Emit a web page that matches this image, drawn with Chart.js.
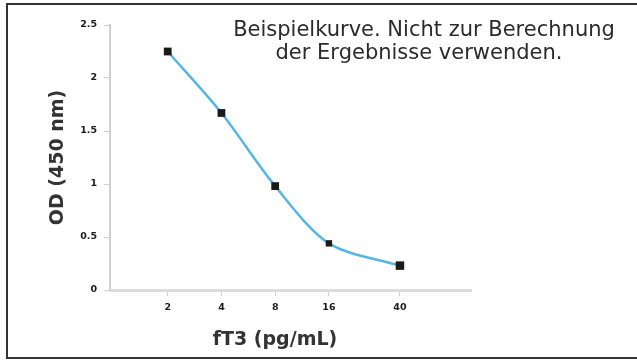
<!DOCTYPE html>
<html>
<head>
<meta charset="utf-8">
<script src="https://cdn.jsdelivr.net/npm/chart.js@4.4.0/dist/chart.umd.min.js"></script>
<style>
    html, body { margin: 0; padding: 0; background: #fff; overflow: hidden; }
    #wrap { position: relative; width: 637px; height: 361px; overflow: hidden; }
    #frame { position: absolute; left: 6px; top: 3px; width: 660px; height: 352px; border: 2px solid #333; }
    #myChart { position: absolute; left: 0; top: 0; }
</style>
</head>
<body>
<div id="wrap">
    <div id="frame"></div>
    <canvas id="myChart" width="637" height="361"></canvas>
</div>
<script>
const concentrations = [2, 4, 8, 16, 40]
const odValues = [2.25, 1.67, 0.98, 0.44, 0.23]
const xTickValues = [2, 4, 8, 16, 40]
const yTickValues = [0, 0.5, 1, 1.5, 2, 2.5]
const noteLines = ['Beispielkurve. Nicht zur Berechnung', 'der Ergebnisse verwenden.']
const xTitle = 'fT3 (pg/mL)'
const yTitle = 'OD (450 nm)'

const textPlugin = {
    id: 'extraText',
    afterDraw(chart) {
        const c = chart.ctx
        c.save()
        c.fillStyle = '#2b2b2b'
        c.textAlign = 'center'
        c.textBaseline = 'middle'
        c.font = '21px "DejaVu Sans"'
        c.fillText(noteLines[0], 424, 31)
        c.fillText(noteLines[1], 419, 54)
        c.font = 'bold 19px "DejaVu Sans"'
        c.fillStyle = '#333'
        c.fillText(xTitle, 275, 340)
        c.restore()
    }
}

const ctx = document.getElementById('myChart').getContext('2d')
const myChart = new Chart(ctx, {
    type: 'line',
    data: {
        datasets: [{
            data: concentrations.map((x, i) => ({ x: x, y: odValues[i] })),
            borderColor: '#55b6e6',
            borderWidth: 2.5,
            tension: 0.3,
            pointStyle: 'rect',
            pointRadius: [5.5, 5.5, 5.5, 4.5, 6],
            pointBackgroundColor: '#1a1a1a',
            pointBorderColor: '#1a1a1a',
            pointBorderWidth: 0
        }]
    },
    options: {
        responsive: false,
        animation: false,
        layout: {
            padding: { left: 0, top: 25, right: 166, bottom: 0 }
        },
        plugins: {
            legend: { display: false },
            tooltip: { enabled: false }
        },
        scales: {
            x: {
                type: 'logarithmic',
                min: 0.95,
                max: 100,
                afterBuildTicks: (scale) => {
                    scale.ticks = xTickValues.map(v => ({ value: v }))
                },
                afterFit: (scale) => { scale.height = 71 },
                ticks: {
                    autoSkip: false,
                    maxRotation: 0,
                    padding: 6,
                    color: '#1a1a1a',
                    font: { family: 'DejaVu Sans', size: 9.5, weight: 'bold' },
                    callback: (v) => String(v)
                },
                grid: { drawOnChartArea: false, tickLength: 6, color: '#cfcfcf' },
                border: { color: '#dcdcdc', width: 3 }
            },
            y: {
                min: 0,
                max: 2.5,
                afterBuildTicks: (scale) => {
                    scale.ticks = yTickValues.map(v => ({ value: v }))
                },
                afterFit: (scale) => { scale.width = 110 },
                ticks: {
                    padding: 7,
                    color: '#1a1a1a',
                    font: { family: 'DejaVu Sans', size: 9.5, weight: 'bold' },
                    callback: (v) => String(v)
                },
                grid: { drawOnChartArea: false, tickLength: 6, color: '#cfcfcf' },
                border: { color: '#d0d0d0', width: 2 },
                title: {
                    display: true,
                    text: yTitle,
                    color: '#333',
                    font: { family: 'DejaVu Sans', size: 19, weight: 'bold' },
                    padding: { top: 47, bottom: 0 }
                }
            }
        }
    },
    plugins: [textPlugin]
})
</script>
</body>
</html>
